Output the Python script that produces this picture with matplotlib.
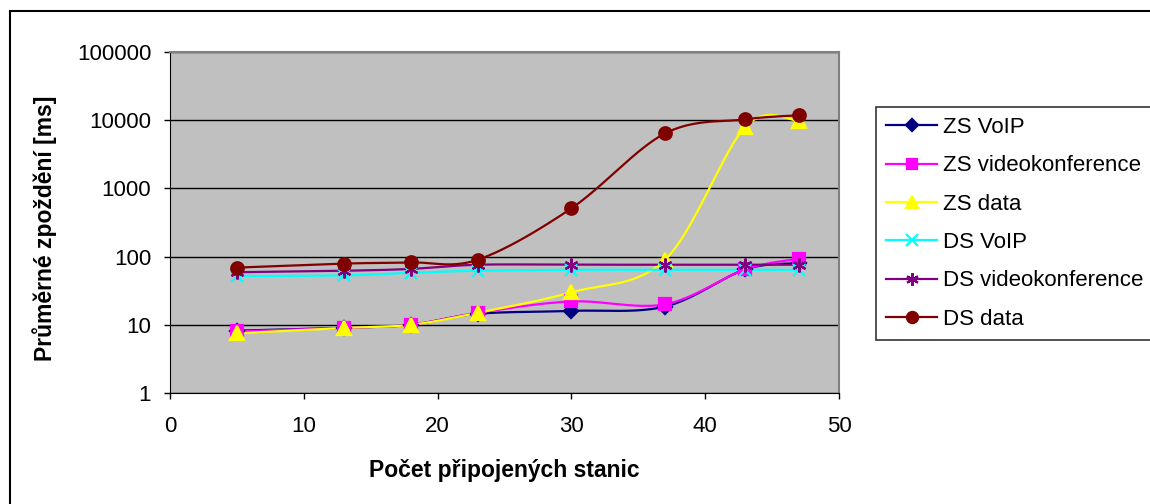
"""Mean delay vs. number of connected stations (log scale)."""

import matplotlib
matplotlib.use("Agg")
import matplotlib.pyplot as plt
import numpy as np
from matplotlib.patches import Rectangle

plt.rcParams["font.family"] = ["Liberation Sans", "DejaVu Sans"]

stations = [5, 13, 18, 23, 30, 37, 43, 47]

zs_voip = [8.2, 9, 10, 14.5, 16, 18.5, 65, 80]
zs_video = [8, 9, 10, 15, 22, 20, 65, 93]
zs_data = [7.5, 9, 10, 15, 30, 90, 8000, 9800]
ds_voip = [52, 53, 58, 62, 64, 64, 64, 64]
ds_video = [59, 62, 66, 76, 76, 76, 76, 76]
ds_data = [69, 79, 82, 90, 510, 6400, 10300, 11800]

labels = ["ZS VoIP", "ZS videokonference", "ZS data",
          "DS VoIP", "DS videokonference", "DS data"]
series = [zs_voip, zs_video, zs_data, ds_voip, ds_video, ds_data]
colors = ["#000080", "#FF00FF", "#FFFF00", "#00FFFF", "#800080", "#800000"]
markers = ["D", "s", "^", "x", (6, 2, 0), "o"]
msizes = [7, 8, 10, 9, 10, 9]


def smooth(x, y, steps=24):
    """Catmull-Rom curve through the points, done in log-y space."""
    x = np.asarray(x, float)
    ly = np.log10(np.asarray(y, float))
    px = np.concatenate([[x[0]], x, [x[-1]]])
    py = np.concatenate([[ly[0]], ly, [ly[-1]]])
    xs, ys = [], []
    t = np.linspace(0, 1, steps, endpoint=False)
    for i in range(1, len(px) - 2):
        for arr, out in ((px, xs), (py, ys)):
            p0, p1, p2, p3 = arr[i - 1], arr[i], arr[i + 1], arr[i + 2]
            m1 = (p2 - p0) / 2
            m2 = (p3 - p1) / 2
            h00 = 2 * t**3 - 3 * t**2 + 1
            h10 = t**3 - 2 * t**2 + t
            h01 = -2 * t**3 + 3 * t**2
            h11 = t**3 - t**2
            out.extend(h00 * p1 + h10 * m1 + h01 * p2 + h11 * m2)
    xs.append(x[-1])
    ys.append(ly[-1])
    return np.array(xs), 10 ** np.array(ys)


fig = plt.figure(figsize=(11.5, 5.04), dpi=100)
fig.patches.append(Rectangle((10 / 1150, -0.01), 1.0, 1 - 11 / 504 + 0.01,
                             transform=fig.transFigure, fill=False,
                             edgecolor="black", lw=1.5))

ax = fig.add_axes([170 / 1150, 1 - 393 / 504, 669 / 1150, 341 / 504])
ax.set_facecolor("#C0C0C0")
ax.set_yscale("log")
ax.set_xlim(0, 50)
ax.set_ylim(1, 100000)
ax.set_yticks([1, 10, 100, 1000, 10000, 100000])
ax.set_yticklabels(["1", "10", "100", "1000", "10000", "100000"])
ax.yaxis.set_minor_locator(matplotlib.ticker.NullLocator())
ax.set_xticks([0, 10, 20, 30, 40, 50])
ax.grid(True, axis="y", color="black", lw=1)
ax.set_axisbelow(True)
for side in ("top", "right"):
    ax.spines[side].set_color("#808080")
    ax.spines[side].set_linewidth(1.5)
ax.spines["left"].set_color("black")
ax.spines["bottom"].set_color("black")
ax.tick_params(direction="out", length=4.5, width=1, labelsize=16)
ax.tick_params(axis="y", pad=9)
ax.tick_params(axis="x", pad=12)

handles = []
for y, lab, c, m, ms in zip(series, labels, colors, markers, msizes):
    sx, sy = smooth(stations, y)
    ax.plot(sx, sy, color=c, lw=1.6, zorder=3)
    ax.plot(stations, y, ls="none", marker=m, ms=ms, color=c,
            mec=c, mew=1.6, zorder=4)
    h, = ax.plot([], [], color=c, lw=1.6, marker=m, ms=ms - 1,
                 mec=c, mew=1.6, label=lab)
    handles.append(h)

ax.set_xlabel("Počet připojených stanic", fontsize=16.5, fontweight="bold")
ax.set_ylabel("Průměrné zpoždění [ms]", fontsize=16.5, fontweight="bold")
ax.xaxis.set_label_coords((504 - 170) / 669, (393 - 470) / 341)
ax.yaxis.set_label_coords((45 - 170) / 669, (393 - 228) / 341)
ax.xaxis.label.set_va("center")
ax.yaxis.label.set_va("center")

leg = fig.legend(handles=handles, loc="upper left",
                 bbox_to_anchor=(876 / 1150, 1 - 107 / 504),
                 fontsize=16, frameon=True, fancybox=False,
                 edgecolor="black", borderpad=0.45, labelspacing=0.78,
                 handlelength=2.3, handletextpad=0.25, borderaxespad=0)
leg.get_frame().set_linewidth(1.2)

fig.savefig("out.png", dpi=100)
